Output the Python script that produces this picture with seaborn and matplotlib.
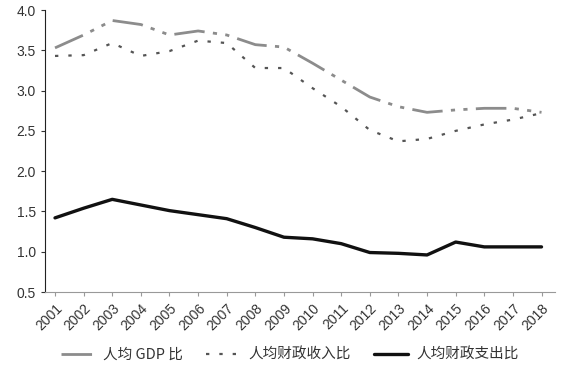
import numpy as np
import pandas as pd
import seaborn as sns
import matplotlib.pyplot as plt

# data
years = list(range(2001, 2019))
gdp_ratio = [3.53, 3.69, 3.87, 3.82, 3.69, 3.74, 3.69, 3.57, 3.54,
             3.34, 3.13, 2.92, 2.80, 2.73, 2.76, 2.78, 2.78, 2.73]
rev_ratio = [3.43, 3.44, 3.59, 3.43, 3.49, 3.62, 3.59, 3.28, 3.28,
             3.03, 2.80, 2.51, 2.37, 2.40, 2.50, 2.58, 2.64, 2.72]
exp_ratio = [1.42, 1.54, 1.65, 1.58, 1.51, 1.46, 1.41, 1.30, 1.18,
             1.16, 1.10, 0.99, 0.98, 0.96, 1.12, 1.06, 1.06, 1.06]
labels = ["人均 GDP 比", "人均财政收入比", "人均财政支出比"]

df = pd.DataFrame({
    "year": years * 3,
    "value": gdp_ratio + rev_ratio + exp_ratio,
    "series": [labels[0]] * 18 + [labels[1]] * 18 + [labels[2]] * 18,
})

sns.set_style("white")
plt.rcParams["font.family"] = ["Noto Sans CJK SC", "DejaVu Sans"]

fig = plt.figure(figsize=(5.66, 3.78), dpi=100)
ax = fig.add_axes([0.0795, 0.2275, 0.9005, 0.746])

palette = {labels[0]: "#8c8c8c", labels[1]: "#555555", labels[2]: "#111111"}
sns.lineplot(data=df, x="year", y="value", hue="series", palette=palette,
             ax=ax, legend=False)

lines = ax.get_lines()
lines[0].set_dashes([11, 3, 1.5, 3, 1.5, 3])
lines[0].set_linewidth(2.0)
lines[1].set_dashes([1.5, 4.5])
lines[1].set_linewidth(1.6)
lines[2].set_linewidth(2.4)

ax.set_xlim(2000.65, 2018.46)
ax.set_ylim(0.5, 4.0)
yt = np.arange(0.5, 4.01, 0.5)
ax.set_yticks(yt)
ax.set_yticklabels([f"{v:.1f}" for v in yt], family="Liberation Sans")
ax.set_xticks(years)
ax.set_xticklabels([str(y) for y in years], rotation=45, ha="right",
                   rotation_mode="anchor", family="Liberation Sans")
ax.set_xlabel("")
ax.set_ylabel("")
ax.tick_params(axis="both", labelsize=10, colors="#333333", length=3,
               direction="out")
ax.tick_params(axis="x", color="#999999")
ax.tick_params(left=True, bottom=True)

for s in ["top", "right"]:
    ax.spines[s].set_visible(False)
ax.spines["left"].set_color("#222222")
ax.spines["bottom"].set_color("#999999")

ax.legend(lines, labels, loc="center", bbox_to_anchor=(0.48, -0.223),
          ncol=3, frameon=False, fontsize=10.5, handlelength=2.3,
          handletextpad=0.6, columnspacing=1.6, labelcolor="#333333")

fig.savefig("out.png", dpi=100)
